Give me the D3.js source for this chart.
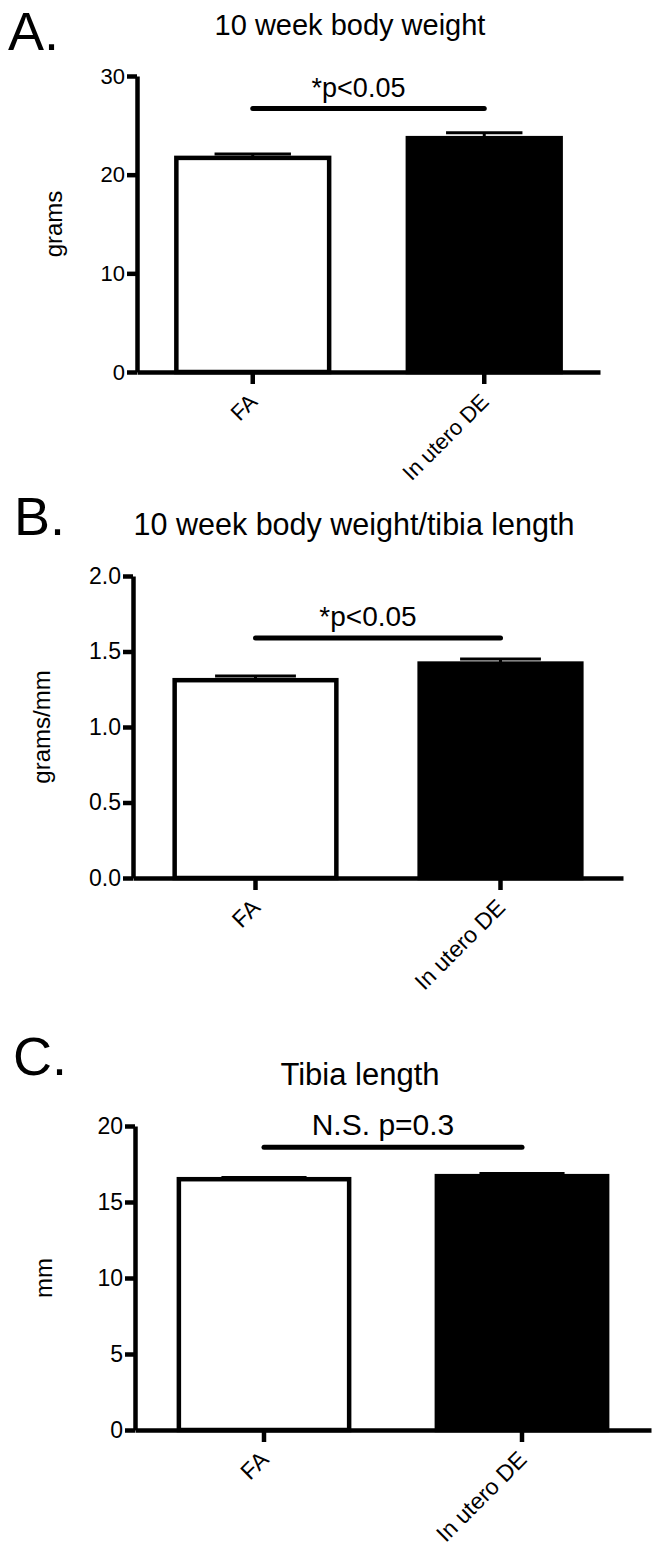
<!DOCTYPE html>
<html>
<head>
<meta charset="utf-8">
<script src="https://cdn.jsdelivr.net/npm/d3@7"></script>
<style>
  body { margin: 0; background: #fff; }
  text { font-family: "Liberation Sans", Arial, Helvetica, sans-serif; fill: #000; }
</style>
</head>
<body>
<svg width="658" height="1548"></svg>
<script>
// groups on the x axis
const categories = ["FA", "In utero DE"];

// A. body weight (grams)
const weightMeans = [21.7, 23.7];
const weightSem = [0.4, 0.55];
const weightTicks = [0, 10, 20, 30];

// B. body weight / tibia length (grams/mm)
const ratioMeans = [1.31, 1.42];
const ratioSem = [0.028, 0.03];
const ratioTicks = [0, 0.5, 1.0, 1.5, 2.0];

// C. tibia length (mm)
const tibiaMeans = [16.5, 16.7];
const tibiaSem = [0.12, 0.17];
const tibiaTicks = [0, 5, 10, 15, 20];

// panel texts
const letters = ["A.", "B.", "C."];
const titles = ["10 week body weight", "10 week body weight/tibia length", "Tibia length"];
const yLabels = ["grams", "grams/mm", "mm"];
const sigLabels = ["*p<0.05", "*p<0.05", "N.S. p=0.3"];
const sigLevels = [26.7, 1.59, 18.6];   // height of the bracket line, in data units

const fills = ["#fff", "#000"];

const svg = d3.select("svg");

// layout of each panel (pixels)
const panels = [
  { means: weightMeans, sem: weightSem, ticks: weightTicks, fmt: d3.format("d"),
    top: 76, bottom: 372, left: 137, right: 600,
    letterX: 8, letterY: 50, titleX: 350, titleY: 35, titleFont: 29, yLabX: 62,
    tickFont: 22, sigFont: 27 },
  { means: ratioMeans, sem: ratioSem, ticks: ratioTicks, fmt: d3.format(".1f"),
    top: 576, bottom: 878, left: 133, right: 623,
    letterX: 14, letterY: 535, titleX: 354, titleY: 535, titleFont: 30.5, yLabX: 50,
    tickFont: 23, sigFont: 28 },
  { means: tibiaMeans, sem: tibiaSem, ticks: tibiaTicks, fmt: d3.format("d"),
    top: 1126, bottom: 1430, left: 135, right: 651,
    letterX: 13, letterY: 1075, titleX: 360, titleY: 1085, titleFont: 31, yLabX: 52,
    tickFont: 23, sigFont: 30 }
];

panels.forEach((p, i) => {
  const g = svg.append("g");

  const y = d3.scaleLinear()
    .domain([d3.min(p.ticks), d3.max(p.ticks)])
    .range([p.bottom, p.top]);

  const x = d3.scaleBand()
    .domain(categories)
    .range([p.left, p.right])
    .paddingInner(0.34)
    .paddingOuter(0.17);

  // panel letter + title
  g.append("text")
    .attr("x", p.letterX).attr("y", p.letterY)
    .style("font-size", "54px")
    .text(letters[i]);

  g.append("text")
    .attr("x", p.titleX).attr("y", p.titleY)
    .attr("text-anchor", "middle")
    .style("font-size", p.titleFont + "px")
    .text(titles[i]);

  const data = categories.map((c, j) => ({ cat: c, mean: p.means[j], sem: p.sem[j], fill: fills[j] }));

  // error bars first, the bar covers the lower half
  const err = g.append("g").selectAll("g").data(data).join("g");
  err.append("line")
    .attr("x1", d => x(d.cat) + x.bandwidth() / 2)
    .attr("x2", d => x(d.cat) + x.bandwidth() / 2)
    .attr("y1", d => y(d.mean))
    .attr("y2", d => y(d.mean + d.sem))
    .attr("stroke", "#000").attr("stroke-width", 3);
  err.append("line")
    .attr("x1", d => x(d.cat) + x.bandwidth() / 4)
    .attr("x2", d => x(d.cat) + x.bandwidth() * 3 / 4)
    .attr("y1", d => y(d.mean + d.sem))
    .attr("y2", d => y(d.mean + d.sem))
    .attr("stroke", "#000").attr("stroke-width", 3);

  // bars
  g.append("g").selectAll("rect")
    .data(data)
    .join("rect")
    .attr("x", d => x(d.cat))
    .attr("y", d => y(d.mean))
    .attr("width", x.bandwidth())
    .attr("height", d => y(0) - y(d.mean))
    .attr("fill", d => d.fill)
    .attr("stroke", "#000")
    .attr("stroke-width", 4.5);

  // y axis
  const yAxis = g.append("g")
    .attr("transform", `translate(${p.left},0)`)
    .call(d3.axisLeft(y).tickValues(p.ticks).tickFormat(p.fmt).tickSize(10).tickSizeOuter(0).tickPadding(2));

  // x axis
  const xAxis = g.append("g")
    .attr("transform", `translate(0,${p.bottom})`)
    .call(d3.axisBottom(x).tickSize(12).tickSizeOuter(0));

  [yAxis, xAxis].forEach(a => {
    a.select(".domain").attr("stroke-width", 4.5);
    a.selectAll(".tick line").attr("stroke-width", 4.5);
    a.selectAll("text")
      .style("font-family", '"Liberation Sans", Arial, sans-serif')
      .style("font-size", p.tickFont + "px");
  });

  // slanted group names
  xAxis.selectAll(".tick text")
    .attr("y", 0).attr("dy", 0)
    .attr("text-anchor", "end")
    .attr("transform", "translate(6,31) rotate(-45)");

  // y axis label
  g.append("text")
    .attr("transform", `translate(${p.yLabX},${(p.top + p.bottom) / 2}) rotate(-90)`)
    .attr("text-anchor", "middle")
    .style("font-size", "24px")
    .text(yLabels[i]);

  // significance bar
  const cx = categories.map(c => x(c) + x.bandwidth() / 2);
  g.append("line")
    .attr("x1", cx[0]).attr("x2", cx[1])
    .attr("y1", y(sigLevels[i])).attr("y2", y(sigLevels[i]))
    .attr("stroke", "#000").attr("stroke-width", 5)
    .attr("stroke-linecap", "round");

  g.append("text")
    .attr("x", (cx[0] + cx[1]) / 2 - 10)
    .attr("y", y(sigLevels[i]) - 12)
    .attr("text-anchor", "middle")
    .style("font-size", p.sigFont + "px")
    .text(sigLabels[i]);
});
</script>
</body>
</html>
